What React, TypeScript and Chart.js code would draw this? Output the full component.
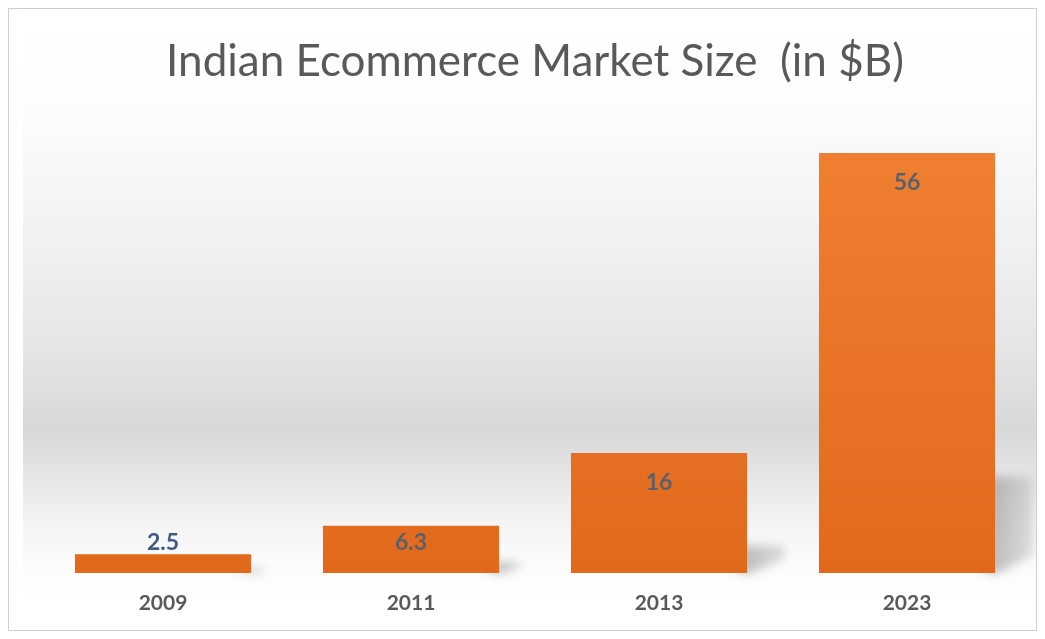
import React, { useEffect, useRef } from "react";
import { Chart, registerables } from "chart.js";

Chart.register(...registerables);

const categories = ["2009", "2011", "2013", "2023"];
const marketSize = [2.5, 6.3, 16, 56];
const valueLabels = ["2.5", "6.3", "16", "56"];
const titleText = "Indian Ecommerce Market Size  (in $B)";

const labelColors = ["#3f5c80", "#5a5f6e", "#5a5f6e", "#5a5f6e"];

const backgroundPlugin = {
  id: "panelBackground",
  beforeDraw(chart: any) {
    const { ctx, width, height } = chart;
    ctx.save();
    ctx.fillStyle = "#ffffff";
    ctx.fillRect(0, 0, width, height);
    const g = ctx.createLinearGradient(0, 0, 0, height);
    g.addColorStop(0, "#ffffff");
    g.addColorStop(0.147, "#fdfdfd");
    g.addColorStop(0.388, "#f0f0f0");
    g.addColorStop(0.549, "#e5e5e5");
    g.addColorStop(0.678, "#d8d8d8");
    g.addColorStop(0.742, "#e4e4e4");
    g.addColorStop(0.823, "#f3f3f3");
    g.addColorStop(0.887, "#fbfbfb");
    g.addColorStop(0.952, "#ffffff");
    g.addColorStop(1, "#ffffff");
    ctx.fillStyle = g;
    ctx.fillRect(14, 0, width - 14, height);
    ctx.restore();
  },
};

const shadowPlugin = {
  id: "barShadow",
  beforeDatasetsDraw(chart: any) {
    const { ctx } = chart;
    const meta = chart.getDatasetMeta(0);
    ctx.save();
    ctx.filter = "blur(5px)";
    meta.data.forEach((bar: any) => {
      const props = bar.getProps(["x", "y", "base", "width"], true);
      const right = props.x + props.width / 2;
      const h = props.base - props.y;
      const sh = Math.max(h * 0.23, 4);
      const ext = Math.min(38, 10 + sh);
      const g = ctx.createLinearGradient(right, 0, right + 40, 0);
      g.addColorStop(0, "rgba(140,140,140,0.55)");
      g.addColorStop(1, "rgba(170,170,170,0.35)");
      ctx.fillStyle = g;
      ctx.beginPath();
      ctx.moveTo(right - 10, props.base - sh);
      ctx.lineTo(right + ext, props.base - sh);
      ctx.lineTo(right + ext, props.base - Math.min(18, sh * 0.5));
      ctx.lineTo(right + 4, props.base);
      ctx.lineTo(right - 10, props.base);
      ctx.closePath();
      ctx.fill();
    });
    ctx.restore();
  },
};

const valueLabelPlugin = {
  id: "valueLabels",
  afterDatasetsDraw(chart: any) {
    const { ctx } = chart;
    const meta = chart.getDatasetMeta(0);
    ctx.save();
    ctx.font = "bold 23px Lato, 'Open Sans', sans-serif";
    ctx.textAlign = "center";
    ctx.textBaseline = "middle";
    meta.data.forEach((bar: any, i: number) => {
      const props = bar.getProps(["x", "y", "base"], true);
      const y = Math.min(props.y + 30, props.base - 30);
      ctx.fillStyle = labelColors[i];
      ctx.fillText(valueLabels[i], props.x, y);
    });
    ctx.restore();
  },
};

export default function App() {
  const canvasRef = useRef<HTMLCanvasElement | null>(null);

  useEffect(() => {
    if (!canvasRef.current) return;
    const chart = new Chart(canvasRef.current, {
      type: "bar",
      data: {
        labels: categories,
        datasets: [
          {
            data: marketSize,
            backgroundColor: (c: any) => {
              const area = c.chart.chartArea;
              if (!area) return "#ec7728";
              const g = c.chart.ctx.createLinearGradient(0, area.top, 0, area.bottom);
              g.addColorStop(0, "#f08032");
              g.addColorStop(1, "#e1691c");
              return g;
            },
            borderWidth: 0,
            categoryPercentage: 1,
            barPercentage: 0.71,
          },
        ],
      },
      options: {
        responsive: true,
        maintainAspectRatio: false,
        animation: false,
        layout: { padding: { left: 30, right: 5, top: 0, bottom: -3 } },
        plugins: {
          legend: { display: false },
          tooltip: { enabled: false },
          title: {
            display: true,
            text: titleText,
            color: "#595959",
            font: { family: "Lato, 'Open Sans', sans-serif", size: 44, weight: "normal", lineHeight: 1.2 },
            padding: { top: 26.6, bottom: 34.6 },
          },
        },
        scales: {
          x: {
            grid: { display: false, drawTicks: false },
            border: { display: false },
            ticks: {
              color: "#595959",
              padding: 17.4,
              font: { family: "Lato, 'Open Sans', sans-serif", size: 21, weight: "bold", lineHeight: 1.2 },
            },
          },
          y: {
            display: false,
            min: 0,
            max: 60,
          },
        },
      },
      plugins: [backgroundPlugin, shadowPlugin, valueLabelPlugin],
    });
    return () => chart.destroy();
  }, []);

  return (
    <div style={{ width: 1027, height: 621, border: "1px solid #cfcfcf", position: "relative" }}>
      <canvas ref={canvasRef} />
    </div>
  );
}
